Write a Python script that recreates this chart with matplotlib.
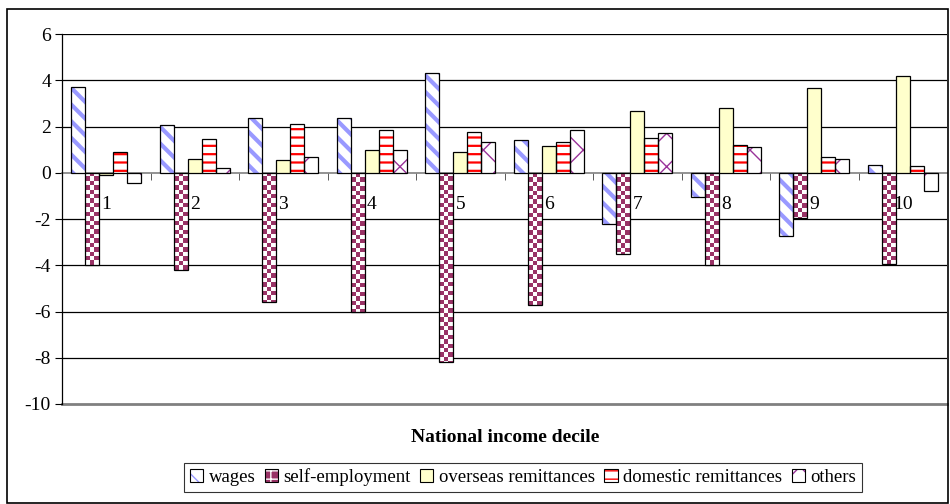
import numpy as np
import matplotlib
matplotlib.use("Agg")
import matplotlib.pyplot as plt
from matplotlib.patches import Patch, Rectangle
from matplotlib.colors import ListedColormap

plt.rcParams['font.family'] = ['Liberation Serif', 'DejaVu Serif']
plt.rcParams['axes.unicode_minus'] = False

deciles = ['1', '2', '3', '4', '5', '6', '7', '8', '9', '10']
wages = [3.7, 2.05, 2.35, 2.35, 4.3, 1.4, -2.2, -1.05, -2.75, 0.35]
self_employment = [-4.0, -4.2, -5.6, -6.0, -8.2, -5.7, -3.5, -4.0, -1.95, -3.95]
overseas = [-0.1, 0.6, 0.55, 1.0, 0.9, 1.15, 2.65, 2.8, 3.65, 4.2]
domestic = [0.9, 1.45, 2.1, 1.85, 1.75, 1.35, 1.5, 1.2, 0.7, 0.3]
others = [-0.45, 0.2, 0.7, 1.0, 1.35, 1.85, 1.7, 1.1, 0.6, -0.8]
series_names = ['wages', 'self-employment', 'overseas remittances',
                'domestic remittances', 'others']

fig = plt.figure(figsize=(9.5, 5.04), dpi=100)
ax = fig.add_axes([62 / 950, 1 - 404 / 504, 885 / 950, 370 / 504])

x = np.arange(len(deciles))
w = 0.158
offs = (np.arange(5) - 2) * w

# (values, face, hatch, hatch colour, hatch width)
styles = [
    (wages, 'white', '\\\\', '#9999FF', 3.0),
    (self_employment, '#993366', None, None, 0),
    (overseas, '#FFFFCC', None, None, 0),
    (domestic, 'white', '--', '#FF0000', 1.6),
    (others, 'white', 'x', '#993399', 1.0),
]


def hatched_patch(face, hatch, hcol, hlw):
    with plt.rc_context({'hatch.linewidth': hlw if hlw else 1.0}):
        p = Patch(facecolor=face, hatch=hatch,
                  edgecolor=hcol if hcol else 'none', linewidth=0)
        if hlw and hasattr(p, 'set_hatch_linewidth'):
            p.set_hatch_linewidth(hlw)
    return p


checker = ListedColormap(['white', '#993366'])
for k, (vals, face, hatch, hcol, hlw) in enumerate(styles):
    with plt.rc_context({'hatch.linewidth': hlw if hlw else 1.0}):
        fills = ax.bar(x + offs[k], vals, w, color=face, hatch=hatch,
                       edgecolor=hcol if hcol else 'none', linewidth=0,
                       zorder=3)
        if hlw:
            for b in fills:
                if hasattr(b, 'set_hatch_linewidth'):
                    b.set_hatch_linewidth(hlw)
    if k == 1:
        # checkerboard fill clipped to each bar
        for b in fills:
            x0, y0 = b.get_x(), b.get_y()
            bw, bh = b.get_width(), b.get_height()
            cell = 0.19
            nrows = int(np.ceil(abs(bh) / cell)) + 1
            grid = (np.add.outer(np.arange(nrows), np.arange(3)) % 2)
            top = max(y0, y0 + bh)
            im = ax.imshow(grid, cmap=checker, interpolation='nearest',
                           extent=(x0, x0 + bw, top - nrows * cell, top),
                           aspect='auto', zorder=3.5)
            im.set_clip_path(b)
    ax.bar(x + offs[k], vals, w, color='none', edgecolor='black',
           linewidth=0.9, zorder=4)

ax.set_xlim(-0.5, 9.5)
ax.set_ylim(-10, 6)
ax.set_yticks(np.arange(-10, 7, 2))
for yv in np.arange(-8, 7, 2):
    if yv != 0:
        ax.axhline(yv, color='black', linewidth=0.9, zorder=0)
ax.axhline(-10, color='#808080', linewidth=2.0, zorder=0, clip_on=False)

ax.spines['top'].set_visible(False)
ax.spines['right'].set_visible(False)
ax.spines['bottom'].set_position(('data', 0))
ax.spines['bottom'].set_color('#808080')
ax.spines['bottom'].set_linewidth(1.2)
ax.spines['bottom'].set_zorder(2)
ax.spines['left'].set_linewidth(0.9)

ax.set_xticks(x)
ax.set_xticklabels(deciles, fontsize=14)
ax.tick_params(axis='x', which='major', length=0, pad=17)
ax.set_xticks(np.arange(0.5, 9.5, 1), minor=True)
ax.tick_params(axis='x', which='minor', length=5, color='#404040', direction='out')
ax.tick_params(axis='y', length=5, labelsize=14, pad=3)

fig.text(505 / 950, 1 - 437 / 504, 'National income decile', ha='center',
         va='center', fontsize=14, fontweight='bold')

handles = []
for k, (vals, face, hatch, hcol, hlw) in enumerate(styles):
    if k == 1:
        fill = hatched_patch(face, '++', 'white', 2.0)
    else:
        fill = hatched_patch(face, hatch, hcol, hlw)
    outline = Patch(facecolor='none', edgecolor='black', linewidth=0.8)
    handles.append((fill, outline))
leg = fig.legend(handles, series_names, loc='center', ncol=5,
                 bbox_to_anchor=(523 / 950, 1 - 477.5 / 504), fontsize=13.5,
                 frameon=True, fancybox=False, edgecolor='black',
                 handlelength=0.7, handleheight=0.7, handletextpad=0.3,
                 columnspacing=0.5, borderpad=0.3, borderaxespad=0)
leg.get_frame().set_linewidth(0.8)

fig.patches.append(Rectangle((7 / 950, 1 / 504), 941 / 950, 494 / 504,
                             transform=fig.transFigure, fill=False,
                             edgecolor='black', linewidth=1.2))

fig.savefig('out.png', dpi=100)
